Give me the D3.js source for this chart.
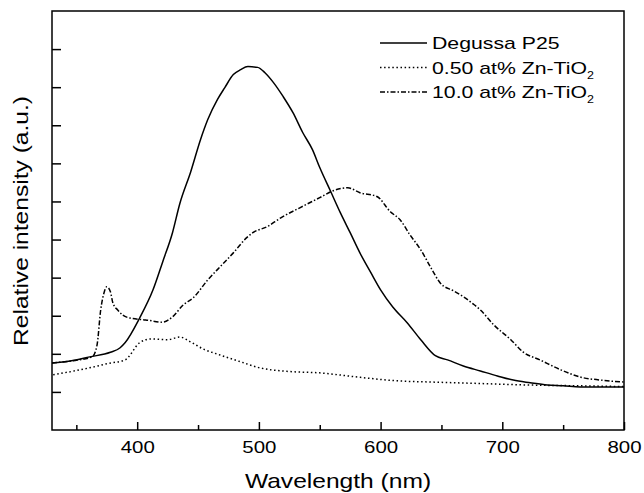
<!DOCTYPE html>
<html>
<head>
<meta charset="utf-8">
<script src="https://cdn.jsdelivr.net/npm/d3@7"></script>
<style>
  body { margin: 0; background: #fff; }
  svg { font-family: "Liberation Sans", Arial, sans-serif; }
</style>
</head>
<body>
<div id="chart"></div>
<script>
// PL spectra: wavelength (nm) vs relative intensity (a.u.)
const p25Wl = [330, 345, 361, 378, 386, 390, 402, 413, 421, 429, 435, 444, 452, 458, 466, 472, 479, 485, 491, 499, 505, 512, 520, 528, 536, 544, 550, 559, 567, 575, 583, 592, 600, 610, 622, 633, 645, 655, 668, 682, 696, 709, 723, 737, 750, 764, 800];
const p25Val = [1.76, 1.81, 1.92, 2.04, 2.16, 2.29, 2.94, 3.68, 4.42, 5.18, 5.94, 6.78, 7.62, 8.15, 8.68, 8.99, 9.33, 9.46, 9.54, 9.52, 9.38, 9.12, 8.75, 8.33, 7.81, 7.36, 6.89, 6.26, 5.70, 5.18, 4.65, 4.13, 3.68, 3.23, 2.81, 2.37, 1.95, 1.84, 1.68, 1.55, 1.42, 1.31, 1.24, 1.18, 1.16, 1.13, 1.13];

const zn050Wl = [331, 353, 370, 375, 390, 402, 411, 425, 435, 444, 454, 468, 485, 501, 523, 550, 581, 614, 641, 682, 723, 764, 800];
const zn050Val = [1.45, 1.58, 1.70, 1.74, 1.84, 2.29, 2.39, 2.37, 2.44, 2.31, 2.13, 1.97, 1.79, 1.63, 1.54, 1.50, 1.39, 1.29, 1.26, 1.22, 1.18, 1.16, 1.14];

const zn100Wl = [330, 345, 363, 367, 370, 373, 375, 378, 380, 384, 388, 394, 407, 421, 429, 438, 446, 458, 468, 479, 490, 495, 507, 518, 534, 550, 561, 573, 583, 597, 608, 616, 624, 633, 641, 649, 660, 668, 676, 682, 693, 707, 717, 731, 748, 764, 781, 800];
const zn100Val = [1.76, 1.81, 1.92, 2.23, 3.15, 3.63, 3.76, 3.63, 3.34, 3.15, 3.02, 2.94, 2.89, 2.83, 2.97, 3.29, 3.47, 3.94, 4.28, 4.65, 5.05, 5.18, 5.34, 5.57, 5.84, 6.10, 6.28, 6.36, 6.23, 6.13, 5.73, 5.52, 5.13, 4.73, 4.28, 3.86, 3.65, 3.50, 3.31, 3.15, 2.76, 2.37, 2.05, 1.84, 1.58, 1.39, 1.31, 1.26];

const xMajorTicks = [400, 500, 600, 700, 800];
const xMinorTicks = [350, 450, 550, 650, 750];
const yTicks = [1, 2, 3, 4, 5, 6, 7, 8, 9, 10];

const series = [
  { name: "Degussa P25", sub: null, wl: p25Wl, val: p25Val, dash: null },
  { name: "0.50 at% Zn-TiO", sub: "2", wl: zn050Wl, val: zn050Val, dash: "1.5,2.6" },
  { name: "10.0 at% Zn-TiO", sub: "2", wl: zn100Wl, val: zn100Val, dash: "5,2,1.5,2" }
];

const width = 644, height = 493;
const margin = { top: 11, right: 20, bottom: 63, left: 52 };

const svg = d3.select("#chart").append("svg")
  .attr("width", width)
  .attr("height", height);

const x = d3.scaleLinear().domain([330, 800]).range([margin.left, width - margin.right]);
const y = d3.scaleLinear().domain([0, 11]).range([height - margin.bottom, margin.top]);

// Curves
const line = d3.line()
  .x(d => x(d[0]))
  .y(d => y(d[1]))
  .curve(d3.curveMonotoneX);

series.forEach(s => {
  const pts = s.wl.map((w, i) => [w, s.val[i]]);
  svg.append("path")
    .datum(pts)
    .attr("fill", "none")
    .attr("stroke", "#000")
    .attr("stroke-width", 1.5)
    .attr("stroke-dasharray", s.dash)
    .attr("d", line);
});

// Frame
svg.append("rect")
  .attr("x", x.range()[0])
  .attr("y", y.range()[1])
  .attr("width", x.range()[1] - x.range()[0])
  .attr("height", y.range()[0] - y.range()[1])
  .attr("fill", "none")
  .attr("stroke", "#000")
  .attr("stroke-width", 1.5);

// X axis (ticks point inward)
const xAxis = svg.append("g").attr("transform", `translate(0,${y.range()[0]})`);
xAxis.call(d3.axisBottom(x).tickValues(xMajorTicks).tickSizeInner(-8).tickSizeOuter(0).tickPadding(11));
xAxis.append("g").call(d3.axisBottom(x).tickValues(xMinorTicks).tickSizeInner(-5).tickSizeOuter(0).tickFormat(""));
xAxis.selectAll(".domain").remove();
xAxis.selectAll("line").attr("stroke", "#000").attr("stroke-width", 1.5);
// the original lettering is a horizontally stretched Helvetica
xAxis.selectAll("text")
  .attr("fill", "#000")
  .attr("transform", "scale(1.24,1)")
  .style("font-size", "16.5px")
  .style("font-family", "'Liberation Sans', Arial, sans-serif");

// Y axis (unlabelled ticks)
const yAxis = svg.append("g").attr("transform", `translate(${x.range()[0]},0)`);
yAxis.call(d3.axisLeft(y).tickValues(yTicks).tickSizeInner(-9).tickSizeOuter(0).tickFormat(""));
yAxis.selectAll(".domain").remove();
yAxis.selectAll("line").attr("stroke", "#000").attr("stroke-width", 1.5);

// Axis titles
svg.append("text")
  .attr("transform", `translate(${(x.range()[0] + x.range()[1]) / 2},488) scale(1.2,1)`)
  .attr("text-anchor", "middle")
  .style("font-size", "20.5px")
  .text("Wavelength (nm)");

svg.append("text")
  .attr("transform", "translate(28,221) rotate(-90) scale(1.2,1)")
  .attr("text-anchor", "middle")
  .style("font-size", "20.5px")
  .text("Relative intensity (a.u.)");

// Legend
const legend = svg.append("g").attr("transform", "translate(380,43)");
series.forEach((s, i) => {
  const g = legend.append("g").attr("transform", `translate(0,${i * 24.5})`);
  g.append("line")
    .attr("x1", 0).attr("x2", 47)
    .attr("stroke", "#000")
    .attr("stroke-width", 1.3)
    .attr("stroke-dasharray", s.dash);
  const t = g.append("text")
    .attr("transform", "translate(52,6) scale(1.25,1)")
    .style("font-size", "17px")
    .text(s.name);
  if (s.sub) {
    t.append("tspan")
      .attr("dy", 5)
      .style("font-size", "10px")
      .text(s.sub);
  }
});
</script>
</body>
</html>
